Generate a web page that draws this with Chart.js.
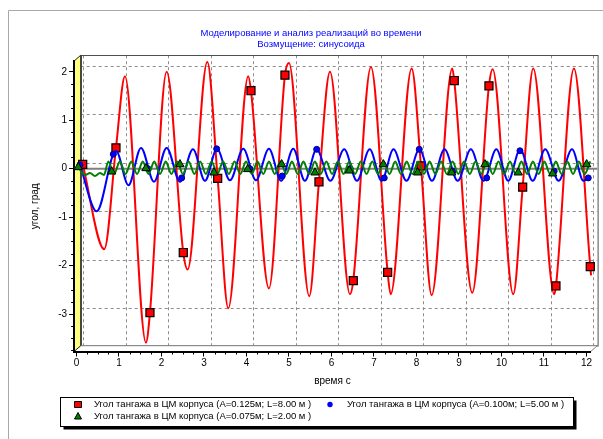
<!DOCTYPE html>
<html lang="ru">
<head>
<meta charset="UTF-8">
<title>Моделирование и анализ реализаций во времени</title>
<script src="https://cdn.jsdelivr.net/npm/chart.js"></script>
<style>
  html, body { margin: 0; padding: 0; background: #fff; }
  #wrap { width: 603px; height: 439px; }
</style>
</head>
<body>
<div id="wrap"><canvas id="chart" width="603" height="439"></canvas></div>
<script>
// ---- data (time, s / angle, deg) ----
const chartTitle = ['Моделирование и анализ реализаций во времени', 'Возмущение: синусоида'];
const xTitle = 'время с';
const yTitle = 'угол, град';
const seriesNames = [
    'Угол тангажа в ЦМ корпуса (A=0.125м; L=8.00 м )',
    'Угол тангажа в ЦМ корпуса (A=0.100м; L=5.00 м )',
    'Угол тангажа в ЦМ корпуса (A=0.075м; L=2.00 м )'
];

// red curve: turning points
const redT = [0.654, 1.141, 1.635, 2.122, 2.616, 3.078, 3.572, 4.042, 4.529, 5.0, 5.478, 5.965, 6.435,
    6.929, 7.393, 7.887, 8.358, 8.842, 9.313, 9.793, 10.278, 10.748, 11.242, 11.706, 12.11];
const redV = [-1.66, 1.91, -3.59, 2.0, -2.08, 2.2, -2.88, 1.91, -2.47, 2.18, -2.63, 2.0, -2.59,
    2.1, -2.59, 2.07, -2.61, 2.07, -2.56, 2.05, -2.59, 2.07, -2.59, 2.07, -2.2];
// red squares
const redMarkT = [0.146, 0.929, 1.729, 2.513, 3.322, 4.106, 4.906, 5.706, 6.513, 7.322, 8.106, 8.889, 9.706, 10.499, 11.282, 12.09];
const redMarkV = [0.09, 0.43, -2.97, -1.73, -0.2, 1.61, 1.93, -0.27, -2.31, -2.14, 0.06, 1.82, 1.71, -0.38, -2.42, -2.02];

// blue curve: turning points
const blueT = [0.082, 0.475, 0.929, 1.224, 1.518, 1.824, 2.122, 2.435, 2.741, 3.024, 3.306, 3.612, 3.925, 4.224,
    4.529, 4.815, 5.10, 5.375, 5.65, 5.975, 6.30, 6.60, 6.90, 7.18, 7.46, 7.765, 8.07, 8.365, 8.66, 8.97,
    9.28, 9.58, 9.88, 10.16, 10.44, 10.735, 11.03, 11.345, 11.66, 11.93, 12.06];
const blueV = [0.08, -0.88, 0.37, -0.34, 0.43, -0.27, 0.43, -0.27, 0.40, -0.25, 0.41, -0.24, 0.41, -0.24,
    0.41, -0.25, 0.41, -0.25, 0.40, -0.25, 0.40, -0.25, 0.40, -0.25, 0.40, -0.25, 0.40, -0.25, 0.40, -0.25,
    0.40, -0.25, 0.40, -0.25, 0.40, -0.25, 0.40, -0.25, 0.40, -0.25, -0.17];
// blue circles
const blueMarkT = [0.082, 0.866, 1.68, 2.475, 3.299, 4.08, 4.842, 5.652, 6.44, 7.242, 8.066, 8.86, 9.652, 10.435, 11.24, 12.042];
const blueMarkV = [0.08, 0.30, 0.0, -0.19, 0.41, 0.0, -0.15, 0.40, 0.0, -0.19, 0.40, -0.05, -0.19, 0.37, -0.05, -0.19];

// green curve: turning points
const greenT = [0.042, 0.2, 0.318, 0.435, 0.553, 0.647,
    0.75, 0.885, 1.02, 1.155, 1.29, 1.425, 1.56, 1.695, 1.83, 1.965, 2.10, 2.235, 2.37, 2.505, 2.64, 2.775,
    2.91, 3.045, 3.18, 3.315, 3.45, 3.585, 3.72, 3.855, 3.99, 4.125, 4.26, 4.395, 4.53, 4.665, 4.80, 4.935,
    5.07, 5.205, 5.34, 5.475, 5.61, 5.745, 5.88, 6.015, 6.15, 6.285, 6.42, 6.555, 6.69, 6.825, 6.96, 7.095,
    7.23, 7.365, 7.50, 7.635, 7.77, 7.905, 8.04, 8.175, 8.31, 8.445, 8.58, 8.715, 8.85, 8.985, 9.12, 9.255,
    9.39, 9.525, 9.66, 9.795, 9.93, 10.065, 10.20, 10.335, 10.47, 10.605, 10.74, 10.875, 11.01, 11.145,
    11.28, 11.415, 11.55, 11.685, 11.82, 11.955, 12.09];
const greenV = [0.03, -0.13, -0.09, -0.15, -0.09, -0.13,
    0.15, -0.11, 0.15, -0.11, 0.15, -0.11, 0.15, -0.11, 0.15, -0.11, 0.15, -0.11, 0.15, -0.11, 0.15, -0.11,
    0.15, -0.11, 0.15, -0.11, 0.15, -0.11, 0.15, -0.11, 0.15, -0.11, 0.15, -0.11, 0.15, -0.11, 0.15, -0.11,
    0.15, -0.11, 0.15, -0.11, 0.15, -0.11, 0.15, -0.11, 0.15, -0.11, 0.15, -0.11, 0.15, -0.11, 0.15, -0.11,
    0.15, -0.11, 0.15, -0.11, 0.15, -0.11, 0.15, -0.11, 0.15, -0.11, 0.15, -0.11, 0.15, -0.11, 0.15, -0.11,
    0.15, -0.11, 0.15, -0.11, 0.15, -0.11, 0.15, -0.11, 0.15, -0.11, 0.15, -0.11, 0.15, -0.11,
    0.15, -0.11, 0.15, -0.11, 0.15, -0.11, 0.15];
// green triangles
const greenMarkT = [0.042, 0.828, 1.635, 2.435, 3.235, 4.028, 4.828, 5.612, 6.419, 7.219, 8.028, 8.828, 9.612, 10.395, 11.205, 12.005];
const greenMarkV = [0.03, -0.06, 0.01, 0.09, -0.08, -0.01, 0.09, -0.08, -0.04, 0.09, -0.08, -0.08, 0.09, -0.08, -0.1, 0.09];

// axis ranges and ticks
const xMin = -0.056, xMax = 12.1;
const yMin = -3.772, yMax = 2.222;

const FONT = '"Liberation Sans", Arial, sans-serif';
const DX = 6.6, DY = -5.8; // depth of the 3D box

function pts(ts, vs) {
    return ts.map((t, i) => ({ x: t, y: vs[i] }));
}
// red line also passes through its squares
const redLine = pts(redT, redV).concat(pts(redMarkT, redMarkV)).sort((a, b) => a.x - b.x);

const frame3d = {
    id: 'frame3d',
    beforeDraw(chart) {
        const { ctx, chartArea: a, scales: { x, y } } = chart;
        ctx.save();
        ctx.fillStyle = '#fff';
        ctx.fillRect(0, 0, chart.width, chart.height);

        // panel edges
        ctx.strokeStyle = '#a8a8a8';
        ctx.lineWidth = 1;
        ctx.beginPath();
        ctx.moveTo(8.5, chart.height);
        ctx.lineTo(8.5, 10.5);
        ctx.lineTo(chart.width, 10.5);
        ctx.stroke();

        // back wall
        ctx.fillStyle = '#fff';
        ctx.fillRect(a.left + DX, a.top + DY, a.width, a.height);

        // dashed grid on the back wall
        ctx.setLineDash([3, 3]);
        ctx.strokeStyle = '#8c8c8c';
        x.ticks.forEach(t => {
            const px = Math.round(x.getPixelForValue(t.value) + DX) + 0.5;
            ctx.beginPath();
            ctx.moveTo(px, a.top + DY);
            ctx.lineTo(px, a.bottom + DY);
            ctx.stroke();
        });
        y.ticks.forEach(t => {
            const py = Math.round(y.getPixelForValue(t.value) + DY) + 0.5;
            ctx.beginPath();
            ctx.moveTo(a.left + DX, py);
            ctx.lineTo(a.right + DX, py);
            ctx.stroke();
        });
        ctx.setLineDash([]);

        ctx.strokeStyle = '#505050';
        ctx.strokeRect(Math.round(a.left + DX) + 0.5, Math.round(a.top + DY) + 0.5, a.width, a.height);

        // floor
        ctx.fillStyle = '#fff';
        ctx.strokeStyle = '#808080';
        ctx.beginPath();
        ctx.moveTo(a.left, a.bottom);
        ctx.lineTo(a.left + DX, a.bottom + DY);
        ctx.lineTo(a.right + DX, a.bottom + DY);
        ctx.lineTo(a.right, a.bottom);
        ctx.closePath();
        ctx.fill();
        ctx.stroke();

        // left wall
        ctx.fillStyle = '#ffff80';
        ctx.strokeStyle = '#202020';
        ctx.beginPath();
        ctx.moveTo(a.left, a.top);
        ctx.lineTo(a.left + DX, a.top + DY);
        ctx.lineTo(a.left + DX, a.bottom + DY);
        ctx.lineTo(a.left, a.bottom);
        ctx.closePath();
        ctx.fill();
        ctx.stroke();
        ctx.restore();
    },
    beforeDatasetsDraw(chart) {
        const { ctx, chartArea: a, scales: { y } } = chart;
        const py = y.getPixelForValue(0);
        ctx.save();
        ctx.strokeStyle = '#808080';
        ctx.lineWidth = 2;
        ctx.beginPath();
        ctx.moveTo(a.left, py);
        ctx.lineTo(a.right + DX, py);
        ctx.stroke();
        ctx.restore();
    },
    afterDraw(chart) {
        const { ctx, chartArea: a, scales: { x, y } } = chart;
        ctx.save();
        // minor ticks
        ctx.strokeStyle = '#000';
        ctx.lineWidth = 1;
        ctx.beginPath();
        for (let v = 0.25; v < xMax; v += 0.25) {
            if (Math.abs(v - Math.round(v)) < 1e-6) continue;
            const px = Math.round(x.getPixelForValue(v)) + 0.5;
            ctx.moveTo(px, a.bottom + 1);
            ctx.lineTo(px, a.bottom + 3);
        }
        for (let v = -3.75; v < yMax; v += 0.25) {
            if (Math.abs(v - Math.round(v)) < 1e-6) continue;
            const py = Math.round(y.getPixelForValue(v)) + 0.5;
            ctx.moveTo(a.left - 1, py);
            ctx.lineTo(a.left - 3, py);
        }
        ctx.stroke();

        // legend box
        const lx = 60.5, ly = 397.5, lw = 513, lh = 29;
        ctx.fillStyle = '#000';
        ctx.fillRect(lx + 3, ly + 3, lw, lh);
        ctx.fillStyle = '#fff';
        ctx.fillRect(lx, ly, lw, lh);
        ctx.strokeStyle = '#000';
        ctx.strokeRect(lx, ly, lw, lh);

        const items = [
            { mx: 78, tx: 94, y: 404.5, style: 'rect', color: '#ff0000' },
            { mx: 330, tx: 347, y: 404.5, style: 'circle', color: '#0000ff' },
            { mx: 78, tx: 94, y: 416, style: 'triangle', color: '#008000' }
        ];
        ctx.font = '9.5px ' + FONT;
        ctx.textBaseline = 'middle';
        items.forEach((it, i) => {
            ctx.fillStyle = it.color;
            ctx.strokeStyle = '#000';
            ctx.beginPath();
            if (it.style === 'rect') {
                ctx.rect(it.mx - 3.5, it.y - 3, 7, 6);
            } else if (it.style === 'circle') {
                ctx.arc(it.mx, it.y, 2.7, 0, Math.PI * 2);
            } else {
                ctx.moveTo(it.mx, it.y - 3.5);
                ctx.lineTo(it.mx + 3.5, it.y + 3);
                ctx.lineTo(it.mx - 3.5, it.y + 3);
                ctx.closePath();
            }
            ctx.fill();
            if (it.style !== 'circle') ctx.stroke();
            ctx.fillStyle = '#000';
            ctx.fillText(seriesNames[i], it.tx, it.y);
        });
        ctx.restore();
    }
};

new Chart(document.getElementById('chart'), {
    type: 'line',
    data: {
        datasets: [
            { label: seriesNames[0], data: redLine, borderColor: '#ff0000', borderWidth: 2,
              pointRadius: 0, tension: 0.4, cubicInterpolationMode: 'monotone', order: 6, clip: false },
            { label: seriesNames[0], data: pts(redMarkT, redMarkV), showLine: false, pointStyle: 'rect',
              pointRadius: 5.7, backgroundColor: '#ff0000', borderColor: '#000', pointBorderWidth: 1.2, order: 5, clip: false },
            { label: seriesNames[1], data: pts(blueT, blueV), borderColor: '#0000ff', borderWidth: 2,
              pointRadius: 0, tension: 0.4, cubicInterpolationMode: 'monotone', order: 4, clip: false },
            { label: seriesNames[1], data: pts(blueMarkT, blueMarkV), showLine: false, pointStyle: 'circle',
              pointRadius: 3, backgroundColor: '#0000ff', borderColor: '#000080', pointBorderWidth: 1, order: 3, clip: false },
            { label: seriesNames[2], data: pts(greenT, greenV), borderColor: '#008000', borderWidth: 2,
              pointRadius: 0, tension: 0.4, cubicInterpolationMode: 'monotone', order: 2, clip: false },
            { label: seriesNames[2], data: pts(greenMarkT, greenMarkV), showLine: false, pointStyle: 'triangle',
              pointRadius: 4.8, backgroundColor: '#008000', borderColor: '#000', pointBorderWidth: 1, order: 1, clip: false }
        ]
    },
    options: {
        responsive: false,
        animation: false,
        layout: { padding: { left: 19, right: 0, top: 0, bottom: 50.5 } },
        plugins: {
            legend: { display: false },
            tooltip: { enabled: false },
            title: {
                display: true,
                text: chartTitle,
                color: '#0000ff',
                font: { family: FONT, size: 9.5, weight: 'normal', lineHeight: 1.16 },
                padding: { top: 27.8, bottom: 11.2 }
            }
        },
        scales: {
            x: {
                type: 'linear',
                min: xMin,
                max: xMax,
                ticks: { stepSize: 1, includeBounds: false, autoSkip: false, maxTicksLimit: 30, maxRotation: 0,
                         color: '#000', font: { family: FONT, size: 10 }, padding: 1 },
                grid: { drawOnChartArea: false, tickLength: 5, color: '#000' },
                border: { color: '#000', width: 2 },
                title: { display: true, text: xTitle, color: '#000', font: { family: FONT, size: 10 },
                         padding: { top: 0, bottom: 1.5 } },
                afterFit(s) { s.height = 37; }
            },
            y: {
                min: yMin,
                max: yMax,
                ticks: { stepSize: 1, includeBounds: false, color: '#000', font: { family: FONT, size: 10 }, padding: 2 },
                grid: { drawOnChartArea: false, tickLength: 5, color: '#000' },
                border: { color: '#000', width: 2 },
                title: { display: true, text: yTitle, color: '#000', font: { family: FONT, size: 10 },
                         padding: { top: 10, bottom: 0 } },
                afterFit(s) { s.width = 55.1; }
            },
            y2: {
                position: 'right',
                grid: { display: false },
                ticks: { display: false },
                border: { display: false },
                afterFit(s) { s.width = 12.3; }
            }
        }
    },
    plugins: [frame3d]
});
</script>
</body>
</html>
